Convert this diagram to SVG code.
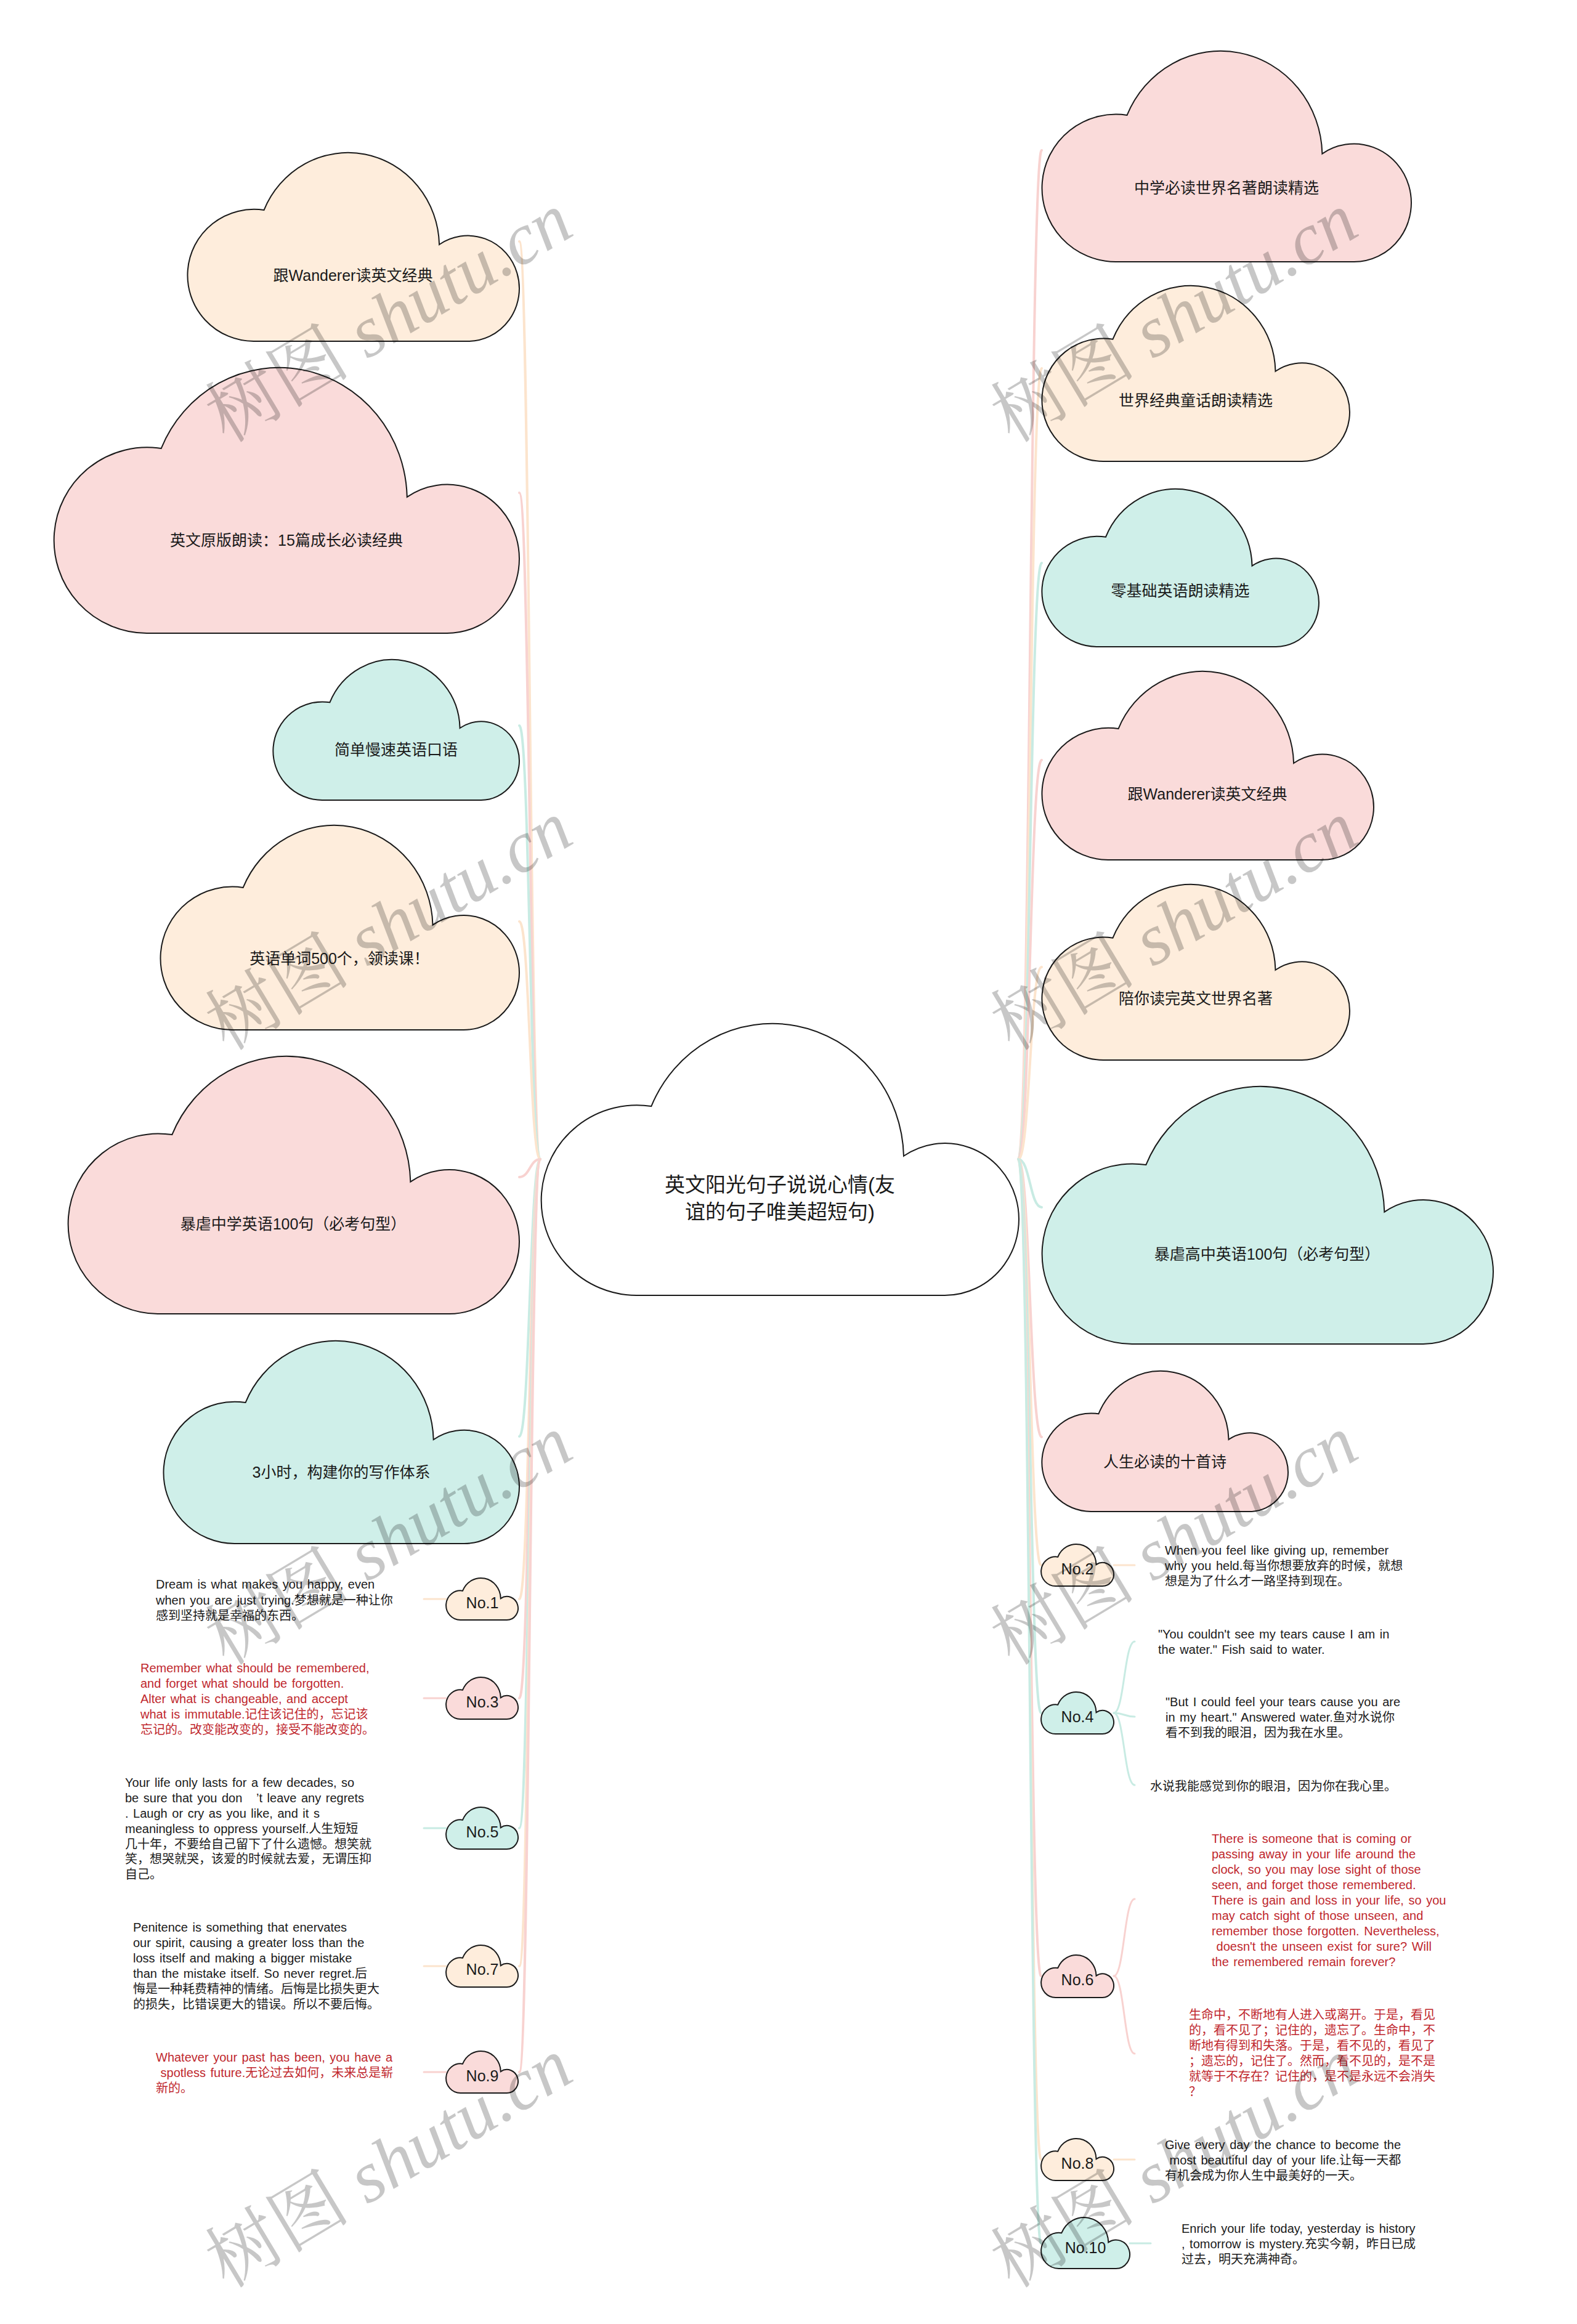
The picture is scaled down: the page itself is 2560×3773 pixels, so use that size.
<svg xmlns="http://www.w3.org/2000/svg" width="2560" height="3773" viewBox="0 0 2560 3773">
<defs>
<path id="cloud" d="M200,1000 A200,350 0 1 1 231,304 A275,500 0 0 1 759,487 A155,280 0 1 1 845,1000 Z" stroke="#1a1a1a" stroke-width="2" vector-effect="non-scaling-stroke"/>
</defs>
<style>
.pe{fill:#FEEDDC}.pk{fill:#FADBDA}.tl{fill:#CFEFE9}.wh{fill:#ffffff}
.lpe{stroke:#FCE4CD}.lpk{stroke:#F8D2D0}.ltl{stroke:#C8EBE3}
.lb{font-family:"Liberation Sans","Noto Sans CJK SC",sans-serif;font-size:25px;fill:#1a1a1a;text-anchor:middle;dominant-baseline:central}
.ct{font-size:33px}
.p{font-family:"Liberation Sans","Noto Sans CJK SC",sans-serif;font-size:20px;word-spacing:2px;fill:#1a1a1a}
.r{fill:#C0272D}
.wm{font-family:"Liberation Serif","Noto Serif CJK SC","Noto Sans CJK SC",serif;font-size:118px;fill:#000;fill-opacity:0.22;text-anchor:middle}
.wm .i{font-style:italic}
</style>
<rect width="2560" height="3773" fill="#ffffff"/>
<g id="connectors" fill="none" stroke-linecap="round">
<g stroke-width="4">
<path class="lpe" d="M877,1882 C860,1882 860,392 843,392"/>
<path class="lpk" d="M877,1882 C860,1882 860,800 843,800"/>
<path class="ltl" d="M877,1882 C860,1882 860,1178 843,1178"/>
<path class="lpe" d="M877,1882 C860,1882 860,1496 843,1496"/>
<path class="lpk" d="M877,1882 C860,1882 860,1911 843,1911"/>
<path class="ltl" d="M877,1882 C860,1882 860,2332 843,2332"/>
<path class="lpe" d="M877,1882 C860,1882 860,2596 843,2596"/>
<path class="lpk" d="M877,1882 C860,1882 860,2757 843,2757"/>
<path class="ltl" d="M877,1882 C860,1882 860,2968 843,2968"/>
<path class="lpe" d="M877,1882 C860,1882 860,3192 843,3192"/>
<path class="lpk" d="M877,1882 C860,1882 860,3364 843,3364"/>
<path class="lpk" d="M1653,1882 C1672,1882 1672,244 1691,244"/>
<path class="lpe" d="M1653,1882 C1672,1882 1672,598 1691,598"/>
<path class="ltl" d="M1653,1882 C1672,1882 1672,914 1691,914"/>
<path class="lpk" d="M1653,1882 C1672,1882 1672,1234 1691,1234"/>
<path class="lpe" d="M1653,1882 C1672,1882 1672,1570 1691,1570"/>
<path class="ltl" d="M1653,1882 C1672,1882 1672,1960 1691,1960"/>
<path class="lpk" d="M1653,1882 C1672,1882 1672,2333 1691,2333"/>
<path class="lpe" d="M1653,1882 C1672,1882 1672,2541 1690,2541"/>
<path class="ltl" d="M1653,1882 C1672,1882 1672,2781 1690,2781"/>
<path class="lpk" d="M1653,1882 C1672,1882 1672,3208 1690,3208"/>
<path class="lpe" d="M1653,1882 C1672,1882 1672,3506 1690,3506"/>
<path class="ltl" d="M1653,1882 C1672,1882 1672,3642 1690,3642"/>
</g>
<g stroke-width="3">
<path class="lpe" d="M724,2596 L688,2596"/>
<path class="lpk" d="M724,2757 L688,2757"/>
<path class="ltl" d="M724,2968 L688,2968"/>
<path class="lpe" d="M724,3192 L688,3192"/>
<path class="lpk" d="M724,3364 L688,3364"/>
<path class="lpe" d="M1808,2541 L1842,2541"/>
<path class="ltl" d="M1808,2781 C1825,2781 1825,2665 1842,2665"/>
<path class="ltl" d="M1808,2781 C1825,2781 1825,2787 1842,2787"/>
<path class="ltl" d="M1808,2781 C1825,2781 1825,2898 1842,2898"/>
<path class="lpk" d="M1808,3208 C1825,3208 1825,3083 1842,3083"/>
<path class="lpk" d="M1808,3208 C1825,3208 1825,3334 1842,3334"/>
<path class="lpe" d="M1808,3506 L1842,3506"/>
<path class="ltl" d="M1834,3642 L1868,3642"/>
</g>
</g>

<g id="n-center"><use href="#cloud" class="wh" transform="translate(878,1662) scale(0.776,0.441)"/>
<text class="lb ct" x="1266" y="1923">英文阳光句子说说心情(友</text><text class="lb ct" x="1266" y="1967">谊的句子唯美超短句)</text></g>

<g id="n-l1"><use href="#cloud" class="pe" transform="translate(304,248) scale(0.539,0.306)"/><text class="lb" x="573" y="447">跟Wanderer读英文经典</text></g>
<g id="n-l2"><use href="#cloud" class="pk" transform="translate(87,597) scale(0.756,0.431)"/><text class="lb" x="465" y="877">英文原版朗读：15篇成长必读经典</text></g>
<g id="n-l3"><use href="#cloud" class="tl" transform="translate(443,1071) scale(0.400,0.228)"/><text class="lb" x="643" y="1217">简单慢速英语口语</text></g>
<g id="n-l4"><use href="#cloud" class="pe" transform="translate(260,1340) scale(0.583,0.332)"/><text class="lb" x="551" y="1556">英语单词500个，领读课！</text></g>
<g id="n-l5"><use href="#cloud" class="pk" transform="translate(110,1715) scale(0.733,0.418)"/><text class="lb" x="476" y="1987">暴虐中学英语100句（必考句型）</text></g>
<g id="n-l6"><use href="#cloud" class="tl" transform="translate(265,2177) scale(0.578,0.329)"/><text class="lb" x="554" y="2390">3小时，构建你的写作体系</text></g>

<g id="n-r1"><use href="#cloud" class="pk" transform="translate(1691,83) scale(0.600,0.342)"/><text class="lb" x="1991" y="305">中学必读世界名著朗读精选</text></g>
<g id="n-r2"><use href="#cloud" class="pe" transform="translate(1691,464) scale(0.500,0.285)"/><text class="lb" x="1941" y="650">世界经典童话朗读精选</text></g>
<g id="n-r3"><use href="#cloud" class="tl" transform="translate(1691,794) scale(0.450,0.256)"/><text class="lb" x="1916" y="959">零基础英语朗读精选</text></g>
<g id="n-r4"><use href="#cloud" class="pk" transform="translate(1691,1090) scale(0.539,0.306)"/><text class="lb" x="1960" y="1289">跟Wanderer读英文经典</text></g>
<g id="n-r5"><use href="#cloud" class="pe" transform="translate(1691,1436) scale(0.500,0.285)"/><text class="lb" x="1941" y="1621">陪你读完英文世界名著</text></g>
<g id="n-r6"><use href="#cloud" class="tl" transform="translate(1691,1764) scale(0.733,0.418)"/><text class="lb" x="2057" y="2036">暴虐高中英语100句（必考句型）</text></g>
<g id="n-r7"><use href="#cloud" class="pk" transform="translate(1691,2226) scale(0.400,0.228)"/><text class="lb" x="1891" y="2373">人生必读的十首诗</text></g>

<g id="n-no1"><use href="#cloud" class="pe" transform="translate(724,2562) scale(0.117,0.068)"/><text class="lb" x="783" y="2602">No.1</text></g>
<g id="n-no3"><use href="#cloud" class="pk" transform="translate(724,2723) scale(0.117,0.068)"/><text class="lb" x="783" y="2763">No.3</text></g>
<g id="n-no5"><use href="#cloud" class="tl" transform="translate(724,2934) scale(0.117,0.068)"/><text class="lb" x="783" y="2974">No.5</text></g>
<g id="n-no7"><use href="#cloud" class="pe" transform="translate(724,3158) scale(0.117,0.068)"/><text class="lb" x="783" y="3197">No.7</text></g>
<g id="n-no9"><use href="#cloud" class="pk" transform="translate(724,3330) scale(0.117,0.068)"/><text class="lb" x="783" y="3370">No.9</text></g>
<g id="n-no2"><use href="#cloud" class="pe" transform="translate(1690,2507) scale(0.118,0.068)"/><text class="lb" x="1749" y="2547">No.2</text></g>
<g id="n-no4"><use href="#cloud" class="tl" transform="translate(1690,2747) scale(0.118,0.068)"/><text class="lb" x="1749" y="2787">No.4</text></g>
<g id="n-no6"><use href="#cloud" class="pk" transform="translate(1690,3174) scale(0.118,0.069)"/><text class="lb" x="1749" y="3214">No.6</text></g>
<g id="n-no8"><use href="#cloud" class="pe" transform="translate(1690,3472) scale(0.118,0.068)"/><text class="lb" x="1749" y="3512">No.8</text></g>
<g id="n-no10"><use href="#cloud" class="tl" transform="translate(1690,3600) scale(0.144,0.083)"/><text class="lb" x="1762" y="3649">No.10</text></g>

<g id="t-no1"><text class="p"><tspan x="253" y="2579">Dream is what makes you happy, even</tspan><tspan x="253" y="2605">when you are just trying.梦想就是一种让你</tspan><tspan x="253" y="2630">感到坚持就是幸福的东西。</tspan></text></g>
<g id="t-no3"><text class="p r"><tspan x="228" y="2715">Remember what should be remembered,</tspan><tspan x="228" y="2740">and forget what should be forgotten.</tspan><tspan x="228" y="2765">Alter what is changeable, and accept</tspan><tspan x="228" y="2790">what is immutable.记住该记住的，忘记该</tspan><tspan x="228" y="2815">忘记的。改变能改变的，接受不能改变的。</tspan></text></g>
<g id="t-no5"><text class="p"><tspan x="203" y="2901">Your life only lasts for a few decades, so</tspan><tspan x="203" y="2926">be sure that you don&#160;&#160;&#160;’t leave any regrets</tspan><tspan x="203" y="2951">. Laugh or cry as you like, and it s</tspan><tspan x="203" y="2976">meaningless to oppress yourself.人生短短</tspan><tspan x="203" y="3001">几十年，不要给自己留下了什么遗憾。想笑就</tspan><tspan x="203" y="3025">笑，想哭就哭，该爱的时候就去爱，无谓压抑</tspan><tspan x="203" y="3050">自己。</tspan></text></g>
<g id="t-no7"><text class="p"><tspan x="216" y="3136">Penitence is something that enervates</tspan><tspan x="216" y="3161">our spirit, causing a greater loss than the</tspan><tspan x="216" y="3186">loss itself and making a bigger mistake</tspan><tspan x="216" y="3211">than the mistake itself. So never regret.后</tspan><tspan x="216" y="3236">悔是一种耗费精神的情绪。后悔是比损失更大</tspan><tspan x="216" y="3261">的损失，比错误更大的错误。所以不要后悔。</tspan></text></g>
<g id="t-no9"><text class="p r"><tspan x="253" y="3347">Whatever your past has been, you have a</tspan><tspan x="253" y="3372">&#160;spotless future.无论过去如何，未来总是崭</tspan><tspan x="253" y="3397">新的。</tspan></text></g>

<g id="t-no2"><text class="p"><tspan x="1891" y="2524">When you feel like giving up, remember</tspan><tspan x="1891" y="2549">why you held.每当你想要放弃的时候，就想</tspan><tspan x="1891" y="2574">想是为了什么才一路坚持到现在。</tspan></text></g>
<g id="t-no4a"><text class="p"><tspan x="1880" y="2660">"You couldn't see my tears cause I am in</tspan><tspan x="1880" y="2685">the water." Fish said to water.</tspan></text></g>
<g id="t-no4b"><text class="p"><tspan x="1892" y="2770">"But I could feel your tears cause you are</tspan><tspan x="1892" y="2795">in my heart." Answered water.鱼对水说你</tspan><tspan x="1892" y="2820">看不到我的眼泪，因为我在水里。</tspan></text></g>
<g id="t-no4c"><text class="p"><tspan x="1867" y="2907">水说我能感觉到你的眼泪，因为你在我心里。</tspan></text></g>
<g id="t-no6a"><text class="p r"><tspan x="1967" y="2992">There is someone that is coming or</tspan><tspan x="1967" y="3017">passing away in your life around the</tspan><tspan x="1967" y="3042">clock, so you may lose sight of those</tspan><tspan x="1967" y="3067">seen, and forget those remembered.</tspan><tspan x="1967" y="3092">There is gain and loss in your life, so you</tspan><tspan x="1967" y="3117">may catch sight of those unseen, and</tspan><tspan x="1967" y="3142">remember those forgotten. Nevertheless,</tspan><tspan x="1967" y="3167">&#160;doesn't the unseen exist for sure? Will</tspan><tspan x="1967" y="3192">the remembered remain forever?</tspan></text></g>
<g id="t-no6b"><text class="p r"><tspan x="1930" y="3278">生命中，不断地有人进入或离开。于是，看见</tspan><tspan x="1930" y="3303">的，看不见了；记住的，遗忘了。生命中，不</tspan><tspan x="1930" y="3328">断地有得到和失落。于是，看不见的，看见了</tspan><tspan x="1930" y="3353">；遗忘的，记住了。然而，看不见的，是不是</tspan><tspan x="1930" y="3378">就等于不存在？记住的，是不是永远不会消失</tspan><tspan x="1930" y="3403">？</tspan></text></g>
<g id="t-no8"><text class="p"><tspan x="1891" y="3489">Give every day the chance to become the</tspan><tspan x="1891" y="3514">&#160;most beautiful day of your life.让每一天都</tspan><tspan x="1891" y="3539">有机会成为你人生中最美好的一天。</tspan></text></g>
<g id="t-no10"><text class="p"><tspan x="1918" y="3625">Enrich your life today, yesterday is history</tspan><tspan x="1918" y="3650">, tomorrow is mystery.充实今朝，昨日已成</tspan><tspan x="1918" y="3675">过去，明天充满神奇。</tspan></text></g>

<g id="watermark">
<text class="wm" transform="translate(652,550) rotate(-31)">树图 <tspan class="i">shutu.cn</tspan></text>
<text class="wm" transform="translate(1927,550) rotate(-31)">树图 <tspan class="i">shutu.cn</tspan></text>
<text class="wm" transform="translate(652,1537) rotate(-31)">树图 <tspan class="i">shutu.cn</tspan></text>
<text class="wm" transform="translate(1927,1537) rotate(-31)">树图 <tspan class="i">shutu.cn</tspan></text>
<text class="wm" transform="translate(652,2535) rotate(-31)">树图 <tspan class="i">shutu.cn</tspan></text>
<text class="wm" transform="translate(1927,2535) rotate(-31)">树图 <tspan class="i">shutu.cn</tspan></text>
<text class="wm" transform="translate(652,3546) rotate(-31)">树图 <tspan class="i">shutu.cn</tspan></text>
<text class="wm" transform="translate(1927,3546) rotate(-31)">树图 <tspan class="i">shutu.cn</tspan></text>
</g>
</svg>
